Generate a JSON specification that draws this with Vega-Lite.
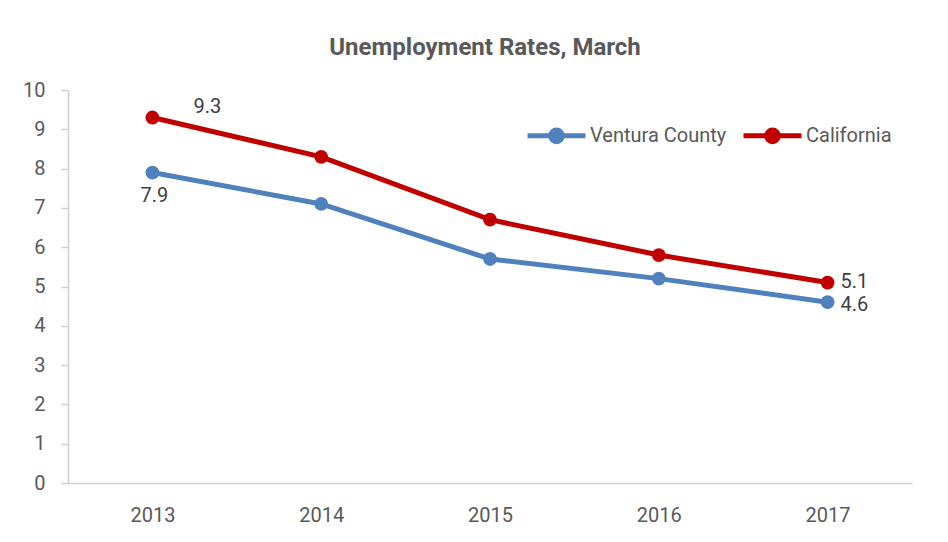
{
  "$schema": "https://vega.github.io/schema/vega-lite/v6.json",
  "width": 844,
  "height": 393,
  "autosize": {"type": "none"},
  "padding": {"left": 68, "top": 90, "right": 36, "bottom": 59},
  "background": "white",
  "config": {
    "view": {"stroke": null},
    "font": "Roboto"
  },
  "title": {
    "text": "Unemployment Rates, March",
    "font": "Roboto",
    "fontSize": 24,
    "fontWeight": "bold",
    "color": "#595959",
    "anchor": "middle",
    "offset": 20,
    "dx": -5
  },
  "data": {
    "values": [
      {"year": "2013", "series": "Ventura County", "rate": 7.9},
      {"year": "2014", "series": "Ventura County", "rate": 7.1},
      {"year": "2015", "series": "Ventura County", "rate": 5.7},
      {"year": "2016", "series": "Ventura County", "rate": 5.2},
      {"year": "2017", "series": "Ventura County", "rate": 4.6},
      {"year": "2013", "series": "California", "rate": 9.3},
      {"year": "2014", "series": "California", "rate": 8.3},
      {"year": "2015", "series": "California", "rate": 6.7},
      {"year": "2016", "series": "California", "rate": 5.8},
      {"year": "2017", "series": "California", "rate": 5.1}
    ]
  },
  "encoding": {
    "x": {
      "field": "year",
      "type": "ordinal",
      "scale": {"padding": 0.5},
      "axis": {
        "title": null,
        "labelAngle": 0,
        "ticks": false,
        "domainColor": "#D0D0D0",
        "domainWidth": 1.5,
        "labelPadding": 22,
        "labelFontSize": 20,
        "labelColor": "#595959",
        "labelFont": "Roboto"
      }
    },
    "y": {
      "field": "rate",
      "type": "quantitative",
      "scale": {"domain": [0, 10], "nice": false},
      "axis": {
        "title": null,
        "values": [0, 1, 2, 3, 4, 5, 6, 7, 8, 9, 10],
        "grid": false,
        "ticks": true,
        "tickSize": 7,
        "tickColor": "#D0D0D0",
        "tickWidth": 1.5,
        "domainColor": "#D0D0D0",
        "domainWidth": 1.5,
        "labelPadding": 16,
        "labelFontSize": 20,
        "labelColor": "#595959",
        "labelFont": "Roboto"
      }
    }
  },
  "layer": [
    {
      "mark": {"type": "line", "strokeWidth": 5, "point": {"filled": true, "size": 190}},
      "encoding": {
        "color": {
          "field": "series",
          "type": "nominal",
          "scale": {"domain": ["Ventura County", "California"], "range": ["#4F81BD", "#C00000"]},
          "legend": {
            "title": null,
            "orient": "none",
            "direction": "horizontal",
            "legendX": 457,
            "legendY": 14,
            "symbolType": "M-1,0L-0.2,0M0.2,0L1,0M-0.2,0A0.2,0.2,0,1,1,0.2,0A0.2,0.2,0,1,1,-0.2,0Z",
            "symbolSize": 3364,
            "symbolStrokeWidth": 5,
            "symbolOpacity": 1,
            "labelFontSize": 20,
            "labelColor": "#595959",
            "labelFont": "Roboto",
            "labelOffset": 2,
            "columnPadding": 6
          }
        }
      }
    },
    {
      "transform": [{"filter": "datum.rate == 9.3"}],
      "mark": {"type": "text", "dx": 55, "dy": -11, "fontSize": 20, "color": "#404040"},
      "encoding": {"text": {"field": "rate", "type": "quantitative", "format": ".1f"}}
    },
    {
      "transform": [{"filter": "datum.rate == 7.9"}],
      "mark": {"type": "text", "dx": 2, "dy": 13, "baseline": "top", "fontSize": 20, "color": "#404040"},
      "encoding": {"text": {"field": "rate", "type": "quantitative", "format": ".1f"}}
    },
    {
      "transform": [{"filter": "datum.year == '2017' && datum.series == 'California'"}],
      "mark": {"type": "text", "dx": 13, "dy": -1, "align": "left", "fontSize": 20, "color": "#404040"},
      "encoding": {"text": {"field": "rate", "type": "quantitative", "format": ".1f"}}
    },
    {
      "transform": [{"filter": "datum.year == '2017' && datum.series == 'Ventura County'"}],
      "mark": {"type": "text", "dx": 13, "dy": 3, "align": "left", "fontSize": 20, "color": "#404040"},
      "encoding": {"text": {"field": "rate", "type": "quantitative", "format": ".1f"}}
    }
  ]
}
